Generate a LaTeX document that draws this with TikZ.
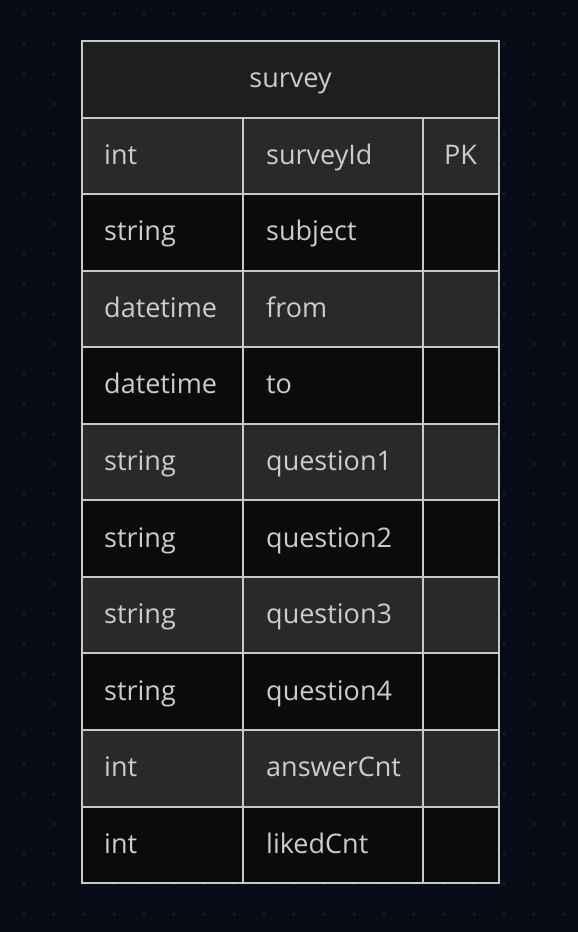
\documentclass[tikz,border=0pt]{standalone}
\usepackage{fontspec}
\setmainfont{Open Sans}
\definecolor{bgc}{HTML}{060B16}
\definecolor{dotc}{HTML}{1B202C}
\definecolor{hdrc}{HTML}{1E1E1E}
\definecolor{oddc}{HTML}{282A2A}
\definecolor{evenc}{HTML}{0B0B0B}
\definecolor{linec}{HTML}{C8C8C8}
\definecolor{txtc}{HTML}{CCCCCC}
\tikzset{
  celltxt/.style={anchor=base west, text=txtc, font=\fontsize{27}{30}\selectfont, inner sep=0pt},
  hdrtxt/.style={anchor=base, text=txtc, font=\fontsize{27}{30}\selectfont, inner sep=0pt},
  gridline/.style={draw=linec, line width=2pt},
}
\begin{document}
\begin{tikzpicture}[x=1pt,y=-1pt]
\fill[bgc] (0,0) rectangle (578,932);
\useasboundingbox (0,0) rectangle (578,932);
\foreach \i in {0,...,18} {
  \foreach \j in {0,...,30} {
    \fill[dotc] (24+30*\i,14+30*\j) circle (1.6);
  }
}
\def\rh{76.55}
\def\boff{8.5}
% header
\fill[hdrc] (82,41) rectangle (499,41+\rh);
\node[hdrtxt] (title) at (290.5,41+0.5*\rh+\boff) {survey};
% rows
\foreach \tp/\nm/\kk [count=\c from 1] in {
  int/surveyId/PK,
  string/subject/,
  datetime/from/,
  datetime/to/,
  string/question1/,
  string/question2/,
  string/question3/,
  string/question4/,
  int/answerCnt/,
  int/likedCnt/} {
  \pgfmathsetmacro{\ytop}{41+\c*\rh}
  \pgfmathsetmacro{\ybase}{\ytop+0.5*\rh+\boff}
  \pgfmathparse{mod(\c,2)==1?1:0}
  \ifnum\pgfmathresult=1
    \fill[oddc] (82,\ytop) rectangle (499,\ytop+\rh);
  \else
    \fill[evenc] (82,\ytop) rectangle (499,\ytop+\rh);
  \fi
  \node[celltxt] (type\c) at (104,\ybase) {\tp};
  \node[celltxt] (name\c) at (266,\ybase) {\nm};
  \node[celltxt] (key\c) at (444,\ybase) {\kk};
  \draw[gridline] (82,\ytop) -- (499,\ytop);
}
\draw[gridline] (243,41+\rh) -- (243,41+11*\rh);
\draw[gridline] (423,41+\rh) -- (423,41+11*\rh);
\draw[gridline] (82,41) rectangle (499,41+11*\rh);
\end{tikzpicture}
\end{document}
